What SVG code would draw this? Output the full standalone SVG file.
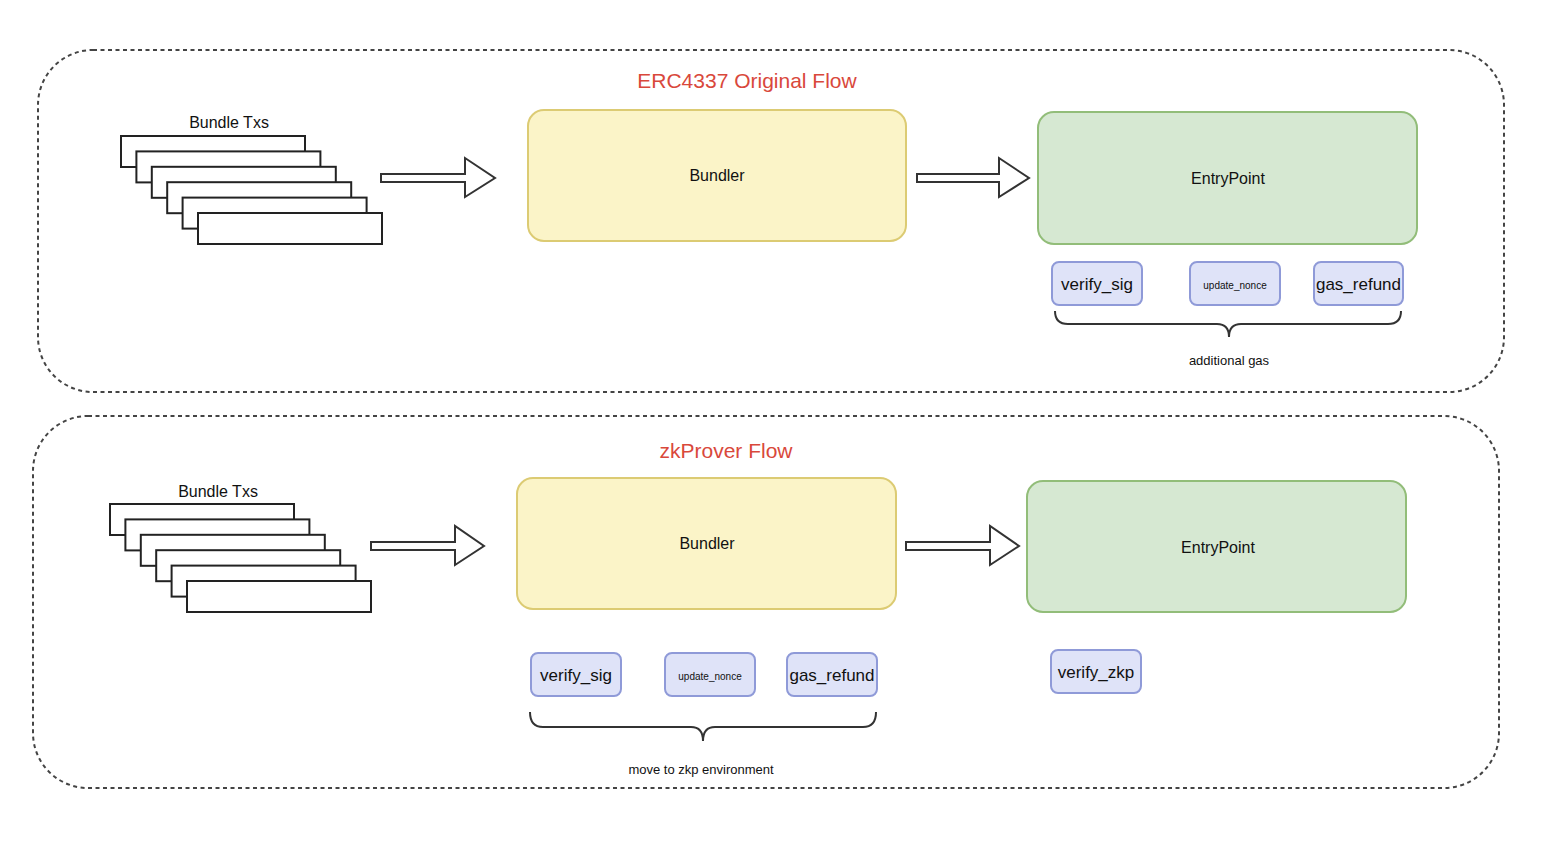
<svg xmlns="http://www.w3.org/2000/svg" width="1544" height="842" viewBox="0 0 1544 842">
<style>
text{font-family:"Liberation Sans",Arial,sans-serif;fill:#111;}
.frame{fill:none;stroke:#444;stroke-width:2;stroke-dasharray:4 3.5;}
.title{font-size:21px;fill:#d9483b;}
.tx{fill:#fff;stroke:#222;stroke-width:2;}
.arrow{fill:#fff;stroke:#333;stroke-width:2;stroke-linejoin:miter;}
.bundler{fill:#fbf4c8;stroke:#dccb73;stroke-width:2;}
.entry{fill:#d6e8d2;stroke:#92bd79;stroke-width:2;}
.fn{fill:#dfe3f8;stroke:#8f9ad8;stroke-width:2;}
.lbl{font-size:16px;}
.fnl{font-size:17px;}
.small{font-size:10px;}
.note{font-size:13px;}
.brace{fill:none;stroke:#333;stroke-width:2;}
</style>
<rect width="1544" height="842" fill="#fff"/>
<g id="frame-top">
<rect class="frame" x="38" y="50" width="1466" height="342" rx="55"/>
<text class="title" x="747" y="88" text-anchor="middle">ERC4337 Original Flow</text>
</g>
<g id="frame-bottom">
<rect class="frame" x="33" y="416" width="1466" height="372" rx="55"/>
<text class="title" x="726" y="458" text-anchor="middle">zkProver Flow</text>
</g>
<g id="bundle-txs-top">
<text class="lbl" x="229" y="128" text-anchor="middle">Bundle Txs</text>
<rect class="tx" x="121" y="136" width="184" height="31"/>
<rect class="tx" x="136.4" y="151.4" width="184" height="31"/>
<rect class="tx" x="151.8" y="166.8" width="184" height="31"/>
<rect class="tx" x="167.2" y="182.2" width="184" height="31"/>
<rect class="tx" x="182.6" y="197.6" width="184" height="31"/>
<rect class="tx" x="198" y="213" width="184" height="31"/>
</g>
<g id="bundler-top">
<rect class="bundler" x="528" y="110" width="378" height="131" rx="16"/>
<text class="lbl" x="717" y="181" text-anchor="middle">Bundler</text>
</g>
<g id="entrypoint-top">
<rect class="entry" x="1038" y="112" width="379" height="132" rx="16"/>
<text class="lbl" x="1228" y="184" text-anchor="middle">EntryPoint</text>
</g>
<g id="verify-sig-top">
<rect class="fn" x="1052" y="262" width="90" height="43" rx="7"/>
<text class="fnl" x="1097" y="290" text-anchor="middle">verify_sig</text>
</g>
<g id="update-nonce-top">
<rect class="fn" x="1190" y="262" width="90" height="43" rx="7"/>
<text class="small" x="1235" y="289" text-anchor="middle">update_nonce</text>
</g>
<g id="gas-refund-top">
<rect class="fn" x="1314" y="262" width="89" height="43" rx="7"/>
<text class="fnl" x="1358.5" y="290" text-anchor="middle">gas_refund</text>
</g>
<g id="additional-gas">
<path class="brace" d="M1055,311 Q1055,324 1068,324 L1217,324 Q1229,324 1229,337 Q1229,324 1241,324 L1388,324 Q1401,324 1401,311"/>
<text class="note" x="1229" y="365" text-anchor="middle">additional gas</text>
</g>
<g id="bundle-txs-bottom">
<text class="lbl" x="218" y="497" text-anchor="middle">Bundle Txs</text>
<rect class="tx" x="110" y="504" width="184" height="31"/>
<rect class="tx" x="125.4" y="519.4" width="184" height="31"/>
<rect class="tx" x="140.8" y="534.8" width="184" height="31"/>
<rect class="tx" x="156.2" y="550.2" width="184" height="31"/>
<rect class="tx" x="171.6" y="565.6" width="184" height="31"/>
<rect class="tx" x="187" y="581" width="184" height="31"/>
</g>
<g id="bundler-bottom">
<rect class="bundler" x="517" y="478" width="379" height="131" rx="16"/>
<text class="lbl" x="707" y="549" text-anchor="middle">Bundler</text>
</g>
<g id="entrypoint-bottom">
<rect class="entry" x="1027" y="481" width="379" height="131" rx="16"/>
<text class="lbl" x="1218" y="553" text-anchor="middle">EntryPoint</text>
</g>
<g id="verify-sig-bottom">
<rect class="fn" x="531" y="653" width="90" height="43" rx="7"/>
<text class="fnl" x="576" y="681" text-anchor="middle">verify_sig</text>
</g>
<g id="update-nonce-bottom">
<rect class="fn" x="665" y="653" width="90" height="43" rx="7"/>
<text class="small" x="710" y="680" text-anchor="middle">update_nonce</text>
</g>
<g id="gas-refund-bottom">
<rect class="fn" x="787" y="653" width="90" height="43" rx="7"/>
<text class="fnl" x="832" y="681" text-anchor="middle">gas_refund</text>
</g>
<g id="verify-zkp">
<rect class="fn" x="1051" y="650" width="90" height="43" rx="7"/>
<text class="fnl" x="1096" y="678" text-anchor="middle">verify_zkp</text>
</g>
<g id="move-to-zkp">
<path class="brace" d="M530,712 Q530,727 543,727 L691,727 Q703,727 703,741 Q703,727 715,727 L863,727 Q876,727 876,712"/>
<text class="note" x="701" y="774" text-anchor="middle">move to zkp environment</text>
</g>
<g id="connectors">
<path class="arrow" d="M381,174 L465,174 L465,158 L495,178 L465,197 L465,182 L381,182 Z"/>
<path class="arrow" d="M917,174 L999,174 L999,158 L1029,178 L999,197 L999,182 L917,182 Z"/>
<path class="arrow" d="M371,542 L455,542 L455,526 L484,546 L455,565 L455,550 L371,550 Z"/>
<path class="arrow" d="M906,542 L990,542 L990,526 L1019,546 L990,565 L990,550 L906,550 Z"/>
</g>
</svg>
